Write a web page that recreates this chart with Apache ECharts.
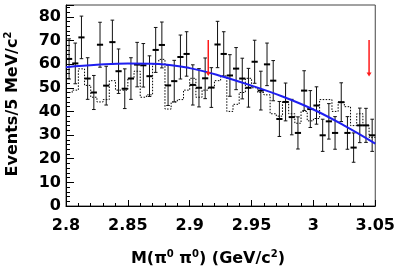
<!DOCTYPE html>
<html>
<head>
<meta charset="utf-8">
<script src="https://cdn.jsdelivr.net/npm/echarts@6/dist/echarts.min.js"></script>
<style>html,body{margin:0;padding:0;background:#fff;}#c{width:398px;height:273px;}</style>
</head>
<body>
<div id="c"></div>
<script>
// Bin centres (5 MeV bins), GeV/c^2
var binCenters = [2.8025,2.8075,2.8125,2.8175,2.8225,2.8275,2.8325,2.8375,2.8425,2.8475,
  2.8525,2.8575,2.8625,2.8675,2.8725,2.8775,2.8825,2.8875,2.8925,2.8975,
  2.9025,2.9075,2.9125,2.9175,2.9225,2.9275,2.9325,2.9375,2.9425,2.9475,
  2.9525,2.9575,2.9625,2.9675,2.9725,2.9775,2.9825,2.9875,2.9925,2.9975,
  3.0025,3.0075,3.0125,3.0175,3.0225,3.0275,3.0325,3.0375,3.0425,3.0475];
var binHalfWidth = 0.0025;
// Data points
var events = [62.2,60.3,71.3,53.9,48.0,68.2,50.9,69.3,57.0,49.6,
  53.9,59.8,59.5,54.9,66.0,68.1,51.0,52.8,63.0,64.3,
  51.2,50.0,54.0,50.1,68.3,64.3,55.2,58.1,53.9,50.0,
  61.0,48.8,59.9,53.0,36.8,44.0,37.6,30.9,48.8,41.0,
  42.5,29.9,35.8,30.9,43.9,30.9,24.7,34.1,34.1,29.9];
var errors = [8.5,8.6,9.0,8.8,7.2,9.5,8.2,9.3,9.4,8.4,
  8.8,9.4,9.2,8.6,9.5,9.7,8.5,8.8,9.3,9.4,
  8.5,8.1,8.6,8.4,9.8,9.4,8.8,8.9,8.6,8.2,
  9.1,8.2,9.0,8.5,7.4,8.0,7.5,6.8,8.4,7.8,
  7.9,6.8,7.5,6.9,8.2,6.9,6.2,7.3,7.2,6.8];
// Dotted histogram
var dottedHist = [48,49,58,51,46,44,45,53,49,49,
  54,57,46,47,60,62,41,44,45,49,
  54,46,49,50,53,55,40,43,48,54,
  50,48,47,39,38,44,39,35,40,36,
  37,45,45,40,44,42,34,39,34,29];
// Fit curve samples
var fitX = [2.800,2.825,2.850,2.875,2.900,2.925,2.950,2.975,3.000,3.025,3.050];
var fitY = [58.7,59.7,60.3,60.1,58.3,55.0,50.9,46.3,40.8,34.0,26.4];
// Red arrows
var arrowX = [2.915, 3.045];
var arrowTop = [70.2, 70.2];
var arrowTip = [55.0, 54.8];
// Tick labels
var xTicks = [2.8, 2.85, 2.9, 2.95, 3, 3.05];
var yTicks = [0, 10, 20, 30, 40, 50, 60, 70, 80];

var FONT = '"DejaVu Sans", "Liberation Sans", Arial, sans-serif';

var pointData = binCenters.map(function (x, i) {
  return [x, events[i], events[i] - errors[i], events[i] + errors[i]];
});
var histData = binCenters.map(function (x, i) { return [x - binHalfWidth, dottedHist[i]]; });
histData.push([binCenters[binCenters.length - 1] + binHalfWidth, dottedHist[dottedHist.length - 1]]);
var fitData = fitX.map(function (x, i) { return [x, fitY[i]]; });
var arrowData = arrowX.map(function (x, i) { return [x, arrowTop[i], arrowTip[i]]; });

var chart = echarts.init(document.getElementById('c'), null, {renderer: 'canvas'});
var option = {
  backgroundColor: '#ffffff',
  animation: false,
  grid: {left: 66, right: 20, top: 5, bottom: 67, show: true, borderColor: '#444', borderWidth: 1, backgroundColor: 'transparent'},
  xAxis: {
    type: 'value', min: 2.8, max: 3.05, interval: 0.05,
    axisLine: {show: true, lineStyle: {color: '#000', width: 1}},
    axisTick: {show: true, inside: true, length: 6, lineStyle: {color: '#000'}},
    minorTick: {show: true, splitNumber: 5, length: 3, lineStyle: {color: '#000'}},
    splitLine: {show: false},
    axisLabel: {
      margin: 12, color: '#000', fontSize: 16, fontWeight: 'bold', fontFamily: FONT,
      formatter: function (v) {
        var r = Math.round(v * 100) / 100;
        for (var i = 0; i < xTicks.length; i++) { if (Math.abs(xTicks[i] - r) < 1e-6) return String(xTicks[i]); }
        return '';
      }
    }
  },
  yAxis: {
    type: 'value', min: 0, max: 85, interval: 10,
    axisLine: {show: true, lineStyle: {color: '#000', width: 1}},
    axisTick: {show: true, inside: true, length: 8, lineStyle: {color: '#000'}},
    minorTick: {show: true, splitNumber: 5, length: 4, lineStyle: {color: '#000'}},
    splitLine: {show: false},
    axisLabel: {
      margin: 5, color: '#000', fontSize: 16, fontWeight: 'bold', fontFamily: FONT,
      showMaxLabel: false,
      formatter: function (v) {
        for (var i = 0; i < yTicks.length; i++) { if (Math.abs(yTicks[i] - v) < 1e-6) return String(yTicks[i]); }
        return '';
      }
    }
  },
  graphic: [
    {
      type: 'text', x: 208, y: 259,
      style: {
        text: '{n|M(π}{s|0}{n| π}{s|0}{n|) (GeV/c}{s|2}{n|)}',
        align: 'center', verticalAlign: 'middle',
        rich: {
          n: {fontSize: 16, fontWeight: 'bold', fontFamily: FONT, lineHeight: 20, fill: '#000', color: '#000'},
          s: {fontSize: 10, fontWeight: 'bold', fontFamily: FONT, lineHeight: 8, verticalAlign: 'top', fill: '#000', color: '#000'}
        }
      }
    },
    {
      type: 'text', x: 13, y: 104, rotation: Math.PI / 2,
      style: {
        text: '{n|Events/5 MeV/c}{s|2}',
        align: 'center', verticalAlign: 'middle',
        rich: {
          n: {fontSize: 16, fontWeight: 'bold', fontFamily: FONT, lineHeight: 20, fill: '#000', color: '#000'},
          s: {fontSize: 10, fontWeight: 'bold', fontFamily: FONT, lineHeight: 8, verticalAlign: 'top', fill: '#000', color: '#000'}
        }
      }
    }
  ],
  series: [
    {
      type: 'line', data: histData, step: 'end', symbol: 'none', z: 2,
      lineStyle: {color: '#000', width: 1, type: [1.5, 1.5]}
    },
    {
      type: 'custom', z: 3, data: pointData,
      renderItem: function (params, api) {
        var x = api.value(0);
        var p = api.coord([x, api.value(1)]);
        var lo = api.coord([x, api.value(2)]);
        var hi = api.coord([x, api.value(3)]);
        var hw = api.size([binHalfWidth * 2, 0])[0] / 2;
        var cap = 1.8;
        var st = {stroke: '#111', lineWidth: 1};
        return {
          type: 'group',
          children: [
            {type: 'line', shape: {x1: p[0], y1: lo[1], x2: p[0], y2: hi[1]}, style: st},
            {type: 'line', shape: {x1: p[0] - cap, y1: lo[1], x2: p[0] + cap, y2: lo[1]}, style: st},
            {type: 'line', shape: {x1: p[0] - cap, y1: hi[1], x2: p[0] + cap, y2: hi[1]}, style: st},
            {type: 'line', shape: {x1: p[0] - hw, y1: p[1], x2: p[0] + hw, y2: p[1]}, style: {stroke: '#000', lineWidth: 2}}
          ]
        };
      }
    },
    {
      type: 'line', data: fitData, smooth: 0.4, symbol: 'none', z: 4,
      lineStyle: {color: '#1e1ef0', width: 2}
    },
    {
      type: 'custom', z: 5, data: arrowData,
      renderItem: function (params, api) {
        var x = api.value(0);
        var t = api.coord([x, api.value(1)]);
        var b = api.coord([x, api.value(2)]);
        var hl = 4, hw2 = 2.5;
        return {
          type: 'group',
          children: [
            {type: 'line', shape: {x1: t[0], y1: t[1], x2: t[0], y2: b[1] - hl + 1}, style: {stroke: '#ff1a1a', lineWidth: 1.5}},
            {type: 'polygon', shape: {points: [[b[0] - hw2, b[1] - hl], [b[0] + hw2, b[1] - hl], [b[0], b[1]]]}, style: {fill: '#ff1a1a'}}
          ]
        };
      }
    }
  ]
};
chart.setOption(option);
</script>
</body>
</html>
